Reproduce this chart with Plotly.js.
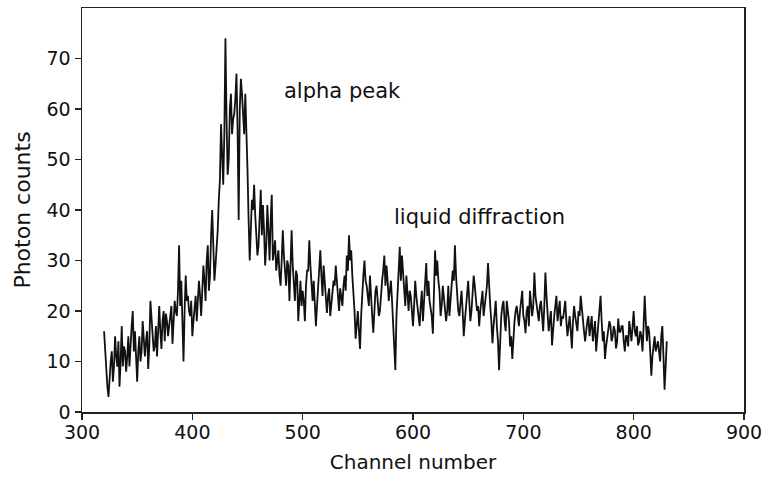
<!DOCTYPE html>
<html>
<head>
<meta charset="utf-8">
<script src="https://cdn.plot.ly/plotly-3.0.1.min.js"></script>
<style>html,body{margin:0;padding:0;background:#fff;}#chart{width:773px;height:477px;}</style>
</head>
<body>
<div id="chart"></div>
<script>
// Channel numbers 320..830, one count per channel
const channelFirst = 320;
const channelLast = 830;

// Photon counts at even channels
// 320..400
const evenA = [16, 9, 3, 10, 6, 15, 9, 5, 17, 13, 8, 15, 14, 20, 16, 6, 15, 12, 15, 14,
  8.5, 22, 16, 13, 11, 21, 12.5, 20, 19.5, 15, 19, 13.5, 22, 19, 33, 26, 10, 27, 23, 19, 15];
// 402..500
const evenB = [20, 18, 26, 19, 29, 22, 33, 27, 40, 26, 32, 42, 57, 45, 74, 47, 60, 55, 59, 67,
  38, 66, 58, 63, 48, 30, 42, 45, 36, 33, 44, 41, 29, 41, 30, 43, 32, 28, 32, 25,
  36, 27, 30, 22, 36, 25, 28, 18, 26, 24];
// 502..600
const evenC = [18, 28, 34, 24, 26, 17, 24, 32, 23, 26, 19.6, 24.5, 22, 26, 29, 22, 24.5, 21, 27, 31,
  35, 32, 24, 14.5, 20, 12.5, 24.5, 30, 25, 21, 24, 15.7, 24, 22, 20, 26, 31, 29, 22, 26,
  18, 8.3, 25, 32.7, 31, 24, 27, 20, 23, 17];
// 602..700
const evenD = [26, 21, 17, 24, 22, 29.5, 26, 20, 15.5, 32, 30, 24, 21, 23, 18, 25, 22, 28, 33, 22,
  19, 24, 15, 21, 26, 18, 23, 25, 20, 17, 22, 19, 24, 29.5, 21, 13.6, 20, 17, 8.3, 19,
  22, 16, 20, 13, 10.5, 18, 21, 17, 22, 19];
// 702..830
const evenE = [15.6, 21, 24, 19, 27.6, 21, 18, 22, 16, 27.6, 20, 18, 13.2, 19, 23, 21, 17, 18.5, 22, 15,
  19, 12.6, 21, 17, 20, 23, 18, 14, 18, 15, 19, 16, 12, 17, 23, 14, 10.5, 15, 18, 14,
  17, 12.6, 18.5, 15.8, 17, 12, 15, 18, 14, 20, 15, 13.2, 16, 12, 23, 14, 16, 7.2, 14, 12,
  14, 10, 17, 4.4, 14];

// Photon counts at odd channels
// 321..399
const oddA = [12, 5, 8, 12, 9, 11, 14, 10, 9, 12, 11, 9, 17, 12, 11, 12, 10, 18, 11, 16,
  13, 18, 12, 17, 15, 16, 18, 14, 18, 17, 21, 17, 20, 24, 21, 18, 20, 22, 20, 22];
// 401..499
const oddB = [18, 23, 21, 23, 24, 26, 30, 24, 35, 33, 29, 36, 46, 52, 55, 58, 50, 63, 58, 62,
  56, 60, 63, 55, 57, 38, 36, 40, 39, 31, 38, 35, 36, 33, 36, 38, 30, 34, 30, 27,
  30, 31, 25, 29, 30, 29, 22, 27, 23, 21];
// 501..599
const oddC = [22, 25, 28, 29, 22, 21, 21, 27, 27, 29, 22, 23, 19, 24, 25, 26, 20, 23, 25, 24,
  28, 30, 27, 20, 18, 16, 19, 27, 26, 23, 27, 19, 21, 25, 19, 24, 28, 25, 26, 24,
  22, 14, 19, 28, 26, 28, 21, 23, 24, 20];
// 601..699
const oddD = [21, 23, 19, 21, 18, 25, 23, 22, 19, 24, 27, 26, 19, 25, 21, 20, 19, 25, 26, 27,
  20, 22, 20, 18, 23, 22, 20, 27, 22, 21, 20, 24, 21, 25, 24, 18, 17, 22, 14, 15,
  21, 18, 22, 18, 15, 16, 20, 19, 20, 24];
// 701..829
const oddE = [18, 20, 17, 22, 21, 23, 19, 21, 19, 21, 23, 16, 20, 17, 21, 18, 22, 19, 21, 18,
  17, 16, 18, 19, 16, 19, 20, 16, 17, 19, 17, 14, 18, 15, 19, 18, 16, 13, 16, 17,
  15, 16, 14, 16, 17, 14, 15, 13, 16, 17, 16, 17, 14, 15, 17, 18, 17, 12, 11, 15,
  13, 12, 15, 11, 9];

const evenCounts = [].concat(evenA, evenB, evenC, evenD, evenE);
const oddCounts = [].concat(oddA, oddB, oddC, oddD, oddE);
const channels = [];
const counts = [];
for (let ch = channelFirst; ch <= channelLast; ch++) {
  channels.push(ch);
  const k = ch - channelFirst;
  counts.push(k % 2 === 0 ? evenCounts[k / 2] : oddCounts[(k - 1) / 2]);
}

const xTickVals = [300, 400, 500, 600, 700, 800, 900];
const yTickVals = [0, 10, 20, 30, 40, 50, 60, 70];

const labels = [
  {text: "alpha peak", x: 536, y: 63.6},
  {text: "liquid diffraction", x: 660, y: 38.6}
];

const FONT = "DejaVu Sans, Liberation Sans, Arial, sans-serif";

Plotly.newPlot("chart", [{
  x: channels,
  y: counts,
  type: "scatter",
  mode: "lines",
  line: {color: "#111", width: 1.8},
  hoverinfo: "skip"
}], {
  width: 773, height: 477,
  margin: {l: 82, r: 29, t: 8, b: 65},
  paper_bgcolor: "#fff", plot_bgcolor: "#fff",
  showlegend: false,
  font: {family: FONT, color: "#111", size: 19},
  xaxis: {
    range: [300, 900], tickvals: xTickVals, ticktext: xTickVals.map(String),
    showgrid: false, zeroline: false,
    showline: true, mirror: true, linecolor: "#222", linewidth: 1.5,
    ticks: "outside", ticklen: 6, tickwidth: 1.5, tickcolor: "#222",
    ticklabelstandoff: -3,
    tickfont: {family: FONT, size: 19, color: "#111"},
    title: {text: "Channel number", font: {family: FONT, size: 20, color: "#111"}, standoff: 12}
  },
  yaxis: {
    range: [0, 80], tickvals: yTickVals, ticktext: yTickVals.map(String),
    showgrid: false, zeroline: false,
    showline: true, mirror: true, linecolor: "#222", linewidth: 1.5,
    ticks: "outside", ticklen: 6, tickwidth: 1.5, tickcolor: "#222",
    tickfont: {family: FONT, size: 19, color: "#111"},
    title: {text: "Photon counts", font: {family: FONT, size: 22, color: "#111"}, standoff: 10}
  },
  annotations: labels.map(l => ({
    text: l.text, x: l.x, y: l.y, xref: "x", yref: "y",
    showarrow: false, xanchor: "center", yanchor: "middle",
    font: {family: FONT, size: 21, color: "#111"}
  }))
}, {displayModeBar: false, staticPlot: true});
</script>
</body>
</html>
